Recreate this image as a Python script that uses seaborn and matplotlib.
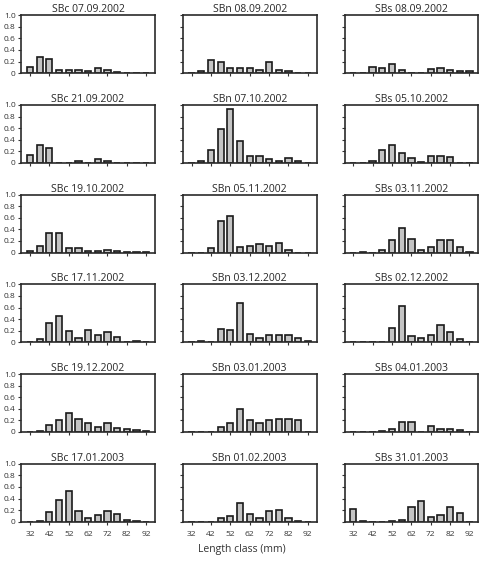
import numpy as np
import pandas as pd
import matplotlib
matplotlib.use('Agg')
import matplotlib.pyplot as plt
import seaborn as sns

sns.set_style('ticks')
plt.rcParams['font.family'] = ['Open Sans', 'DejaVu Sans']

# length classes (mm)
lengths = [32, 37, 42, 47, 52, 57, 62, 67, 72, 77, 82, 87, 92]

titles = [
    'SBc 07.09.2002', 'SBn 08.09.2002', 'SBs 08.09.2002',
    'SBc 21.09.2002', 'SBn 07.10.2002', 'SBs 05.10.2002',
    'SBc 19.10.2002', 'SBn 05.11.2002', 'SBs 03.11.2002',
    'SBc 17.11.2002', 'SBn 03.12.2002', 'SBs 02.12.2002',
    'SBc 19.12.2002', 'SBn 03.01.2003', 'SBs 04.01.2003',
    'SBc 17.01.2003', 'SBn 01.02.2003', 'SBs 31.01.2003',
]

# relative frequencies per panel
sbc_0709 = [0.10, 0.27, 0.24, 0.06, 0.055, 0.06, 0.03, 0.095, 0.06, 0.02, 0, 0, 0]
sbn_0809 = [0, 0.04, 0.22, 0.20, 0.08, 0.08, 0.08, 0.055, 0.20, 0.06, 0.03, 0, 0]
sbs_0809 = [0, 0, 0.11, 0.09, 0.15, 0.05, 0, 0, 0.07, 0.09, 0.05, 0.03, 0.03]
sbc_2109 = [0.13, 0.30, 0.26, 0, 0, 0.04, 0, 0.06, 0.03, 0, 0, 0, 0]
sbn_0710 = [0, 0.03, 0.22, 0.58, 0.93, 0.37, 0.12, 0.12, 0.07, 0.04, 0.09, 0.03, 0]
sbs_0510 = [0, 0, 0.03, 0.22, 0.31, 0.17, 0.08, 0.02, 0.12, 0.11, 0.10, 0, 0]
sbc_1910 = [0.02, 0.11, 0.33, 0.33, 0.07, 0.08, 0.03, 0.02, 0.04, 0.03, 0.005, 0.005, 0.005]
sbn_0511 = [0, 0, 0.07, 0.54, 0.63, 0.09, 0.12, 0.14, 0.11, 0.17, 0.05, 0, 0]
sbs_0311 = [0, 0.005, 0, 0.04, 0.21, 0.43, 0.24, 0.05, 0.10, 0.22, 0.21, 0.10, 0.01]
sbc_1711 = [0, 0.05, 0.34, 0.46, 0.20, 0.07, 0.22, 0.13, 0.17, 0.09, 0, 0.02, 0]
sbn_0312 = [0, 0.02, 0, 0.23, 0.22, 0.67, 0.14, 0.08, 0.13, 0.13, 0.12, 0.07, 0.02]
sbs_0212 = [0, 0, 0.01, 0, 0.25, 0.62, 0.10, 0.08, 0.12, 0.30, 0.17, 0.05, 0]
sbc_1912 = [0, 0.02, 0.12, 0.20, 0.33, 0.22, 0.15, 0.08, 0.15, 0.07, 0.06, 0.03, 0.01]
sbn_0301 = [0, 0, 0, 0.08, 0.15, 0.40, 0.20, 0.15, 0.20, 0.22, 0.22, 0.20, 0]
sbs_0401 = [0, 0, 0, 0.02, 0.05, 0.18, 0.18, 0, 0.10, 0.06, 0.06, 0.04, 0]
sbc_1701 = [0, 0.02, 0.17, 0.37, 0.53, 0.19, 0.06, 0.11, 0.18, 0.13, 0.03, 0.02, 0]
sbn_0102 = [0, 0, 0, 0.06, 0.09, 0.33, 0.14, 0.07, 0.18, 0.21, 0.07, 0.02, 0]
sbs_3101 = [0.22, 0.015, 0, 0, 0.015, 0.03, 0.25, 0.36, 0.085, 0.12, 0.25, 0.15, 0]

panels = [sbc_0709, sbn_0809, sbs_0809, sbc_2109, sbn_0710, sbs_0510,
          sbc_1910, sbn_0511, sbs_0311, sbc_1711, sbn_0312, sbs_0212,
          sbc_1912, sbn_0301, sbs_0401, sbc_1701, sbn_0102, sbs_3101]

fig, axes = plt.subplots(nrows=6, ncols=3, figsize=(4.83, 5.64), dpi=100)
fig.subplots_adjust(left=0.044, right=0.99, top=0.973, bottom=0.075,
                    wspace=0.21, hspace=0.55)

for i, ax in enumerate(axes.flat):
    sns.barplot(x=lengths, y=panels[i], native_scale=True, ax=ax,
                color='#c4c4c4', edgecolor='#1a1a1a', linewidth=1.2,
                width=0.65, errorbar=None, saturation=1)
    ax.set_xlim(27.5, 96.5)
    ax.set_ylim(0, 1.0)
    ax.set_xticks([32, 42, 52, 62, 72, 82, 92])
    ax.set_yticks([0, 0.2, 0.4, 0.6, 0.8, 1.0])
    ax.set_title(titles[i], fontsize=7.5, pad=2)
    ax.tick_params(direction='out', length=2.5, width=0.8, pad=1.5,
                   labelsize=6, colors='#333333')
    for s in ax.spines.values():
        s.set_visible(True)
        s.set_linewidth(1.2)
        s.set_color('#2a2a2a')
    row, col = divmod(i, 3)
    if col == 0:
        ax.set_yticklabels(['0', '0.2', '0.4', '0.6', '0.8', '1.0'])
    else:
        ax.set_yticklabels([])
    if row < 5:
        ax.set_xticklabels([])
    else:
        ax.tick_params(axis='x', pad=4)
    ax.set_xlabel('')
    ax.set_ylabel('')

fig.text(0.5, 0.022, 'Length class (mm)', ha='center', fontsize=7.5, color='#333333')

fig.savefig('out.png', dpi=100)
